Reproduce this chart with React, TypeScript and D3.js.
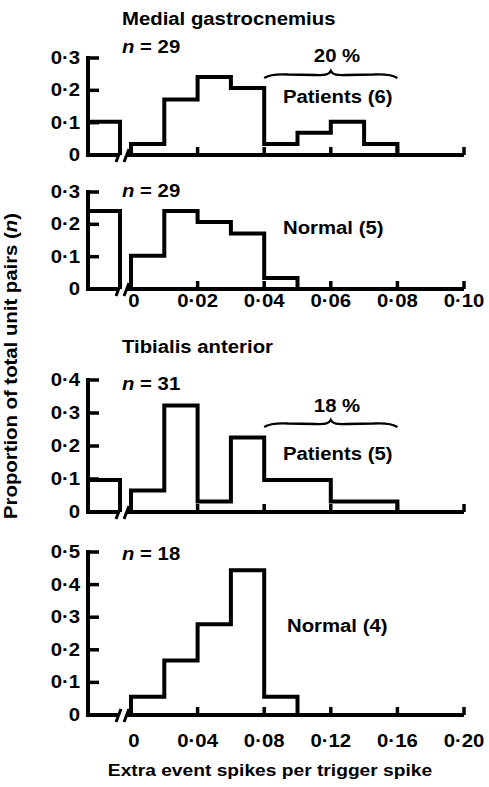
import React from 'react';
import * as d3 from 'd3';

const W = 489;
const H = 787;

// ---- data (proportions) ----
const mgBinEdges = [0, 0.01, 0.02, 0.03, 0.04, 0.05, 0.06, 0.07, 0.08];
const mgPatientsValues = [0.034, 0.172, 0.241, 0.207, 0.034, 0.069, 0.103, 0.034];
const mgPatientsBelow = 0.103;
const mgNormalValues = [0.103, 0.241, 0.207, 0.172, 0.034];
const mgNormalBelow = 0.241;

const taBinEdges = [0, 0.02, 0.04, 0.06, 0.08, 0.1, 0.12, 0.14, 0.16];
const taPatientsValues = [0.065, 0.323, 0.032, 0.226, 0.097, 0.097, 0.032, 0.032];
const taPatientsBelow = 0.097;
const taNormalValues = [0.056, 0.167, 0.278, 0.444, 0.056];
const taNormalBelow = 0;

const mgYTicks = [0, 0.1, 0.2, 0.3];
const taPatYTicks = [0, 0.1, 0.2, 0.3, 0.4];
const taNormYTicks = [0, 0.1, 0.2, 0.3, 0.4, 0.5];
const mgXTicks = [0, 0.02, 0.04, 0.06, 0.08, 0.1];
const taXTicks = [0, 0.04, 0.08, 0.12, 0.16, 0.2];

const FONT = "'Liberation Sans', Arial, Helvetica, sans-serif";
const SW = 4;
const SX = 1.13; // wide typeface: stretch along the reading direction
const FS = 18;

const fmtY = (v: number) => (v === 0 ? '0' : d3.format('.1f')(v).replace('.', '·'));
const fmtX = (v: number) => (v === 0 ? '0' : d3.format('.2f')(v).replace('.', '·'));

const T = ({ x, y, children, anchor, size, sx }: { x: number; y: number; children: any; anchor?: string; size?: number; sx?: number }) => (
  <text
    transform={`translate(${x},${y}) scale(${sx ?? SX},1)`}
    fontFamily={FONT}
    fontSize={size ?? FS}
    fontWeight="bold"
    textAnchor={anchor ?? 'start'}
  >
    {children}
  </text>
);

type PanelProps = {
  yRange: [number, number];
  yMax: number;
  yTicks: number[];
  xMax: number;
  xTicks: number[];
  edges: number[];
  values: number[];
  below: number;
  showXLabels: boolean;
  xLabelY: number;
  brace?: [number, number];
  braceY?: number;
};

const AX_L = 88;
const BRK_L = 120;
const BRK_R = 127;
const X0 = 131;
const X1 = 464;

function Panel(p: PanelProps) {
  const x = d3.scaleLinear().domain([0, p.xMax]).range([X0, X1]);
  const y = d3.scaleLinear().domain([0, p.yMax]).range(p.yRange);
  const y0 = y(0);

  const pts: [number, number][] = [[x(p.edges[0]), y0]];
  p.values.forEach((v, i) => {
    pts.push([x(p.edges[i]), y(v)]);
    pts.push([x(p.edges[i + 1]), y(v)]);
  });
  pts.push([x(p.edges[p.values.length]), y0]);
  const line = d3.line();

  const below: [number, number][] =
    p.below > 0
      ? [
          [AX_L, y(p.below)],
          [BRK_L, y(p.below)],
          [BRK_L, y0],
        ]
      : [];

  let bracePath = '';
  if (p.brace && p.braceY !== undefined) {
    const a = x(p.brace[0]);
    const b = x(p.brace[1]);
    const c = (a + b) / 2;
    const by = p.braceY;
    bracePath = `M${a},${by + 3} C${a + 6},${by - 1} ${a + 14},${by - 1} ${a + 24},${by - 0.5} L${c - 16},${by} C${c - 6},${by + 0.5} ${c - 2},${by} ${c},${by - 4} C${c + 2},${by} ${c + 6},${by + 0.5} ${c + 16},${by} L${b - 24},${by - 0.5} C${b - 14},${by - 1} ${b - 6},${by - 1} ${b},${by + 3}`;
  }

  return (
    <g>
      <line x1={AX_L} x2={AX_L} y1={y0 + SW / 2} y2={y(p.yMax) - SW / 2} stroke="#000" strokeWidth={SW} />
      {p.yTicks.filter((t) => t > 0).map((t) => (
        <line key={'yt' + t} x1={AX_L} x2={AX_L + 11} y1={y(t)} y2={y(t)} stroke="#000" strokeWidth={SW - 0.5} />
      ))}
      {p.yTicks.map((t) => (
        <T key={'yl' + t} x={80} y={y(t) + 6} anchor="end">
          {fmtY(t)}
        </T>
      ))}
      <line x1={AX_L} x2={BRK_L - 2} y1={y0} y2={y0} stroke="#000" strokeWidth={SW} />
      <line x1={BRK_R} x2={X1} y1={y0} y2={y0} stroke="#000" strokeWidth={SW} />
      <line x1={BRK_L - 4} x2={BRK_L + 1} y1={y0 + 7} y2={y0 - 6} stroke="#000" strokeWidth={SW - 1} />
      <line x1={BRK_R - 3} x2={BRK_R + 2} y1={y0 + 7} y2={y0 - 6} stroke="#000" strokeWidth={SW - 1} />
      {p.xTicks.map((t) => (
        <line key={'xt' + t} x1={x(t)} x2={x(t)} y1={y0} y2={y0 - 8} stroke="#000" strokeWidth={SW - 0.5} />
      ))}
      {p.showXLabels &&
        p.xTicks.map((t) => (
          <T key={'xl' + t} x={x(t) + (t === 0 ? 3 : 0)} y={p.xLabelY} anchor="middle">
            {fmtX(t)}
          </T>
        ))}
      {below.length > 0 && <path d={line(below) || ''} fill="none" stroke="#000" strokeWidth={SW} strokeLinejoin="miter" />}
      <path d={line(pts) || ''} fill="none" stroke="#000" strokeWidth={SW} strokeLinejoin="miter" />
      {bracePath && <path d={bracePath} fill="none" stroke="#000" strokeWidth={2.4} />}
    </g>
  );
}

const NLabel = ({ x, y, n }: { x: number; y: number; n: number }) => (
  <T x={x} y={y}>
    <tspan fontStyle="italic">n</tspan>
    {` = ${n}`}
  </T>
);

export default function App() {
  return (
    <svg width={W} height={H} style={{ position: 'absolute', left: 0, top: 0, background: '#fff' }}>
      <rect width={W} height={H} fill="#fff" />
      <T x={122} y={25}>Medial gastrocnemius</T>
      <NLabel x={122} y={53} n={29} />
      <Panel yRange={[155, 58]} yMax={0.3} yTicks={mgYTicks} xMax={0.1} xTicks={mgXTicks} edges={mgBinEdges} values={mgPatientsValues} below={mgPatientsBelow} showXLabels={false} xLabelY={0} brace={[0.04, 0.08]} braceY={75} />
      <T x={337} y={62} anchor="middle">20 %</T>
      <T x={283} y={103}>Patients (6)</T>

      <NLabel x={122} y={197} n={29} />
      <Panel yRange={[289, 192]} yMax={0.3} yTicks={mgYTicks} xMax={0.1} xTicks={mgXTicks} edges={mgBinEdges.slice(0, mgNormalValues.length + 1)} values={mgNormalValues} below={mgNormalBelow} showXLabels={true} xLabelY={307} />
      <T x={283} y={234}>Normal (5)</T>

      <T x={122} y={353}>Tibialis anterior</T>
      <NLabel x={122} y={390} n={31} />
      <Panel yRange={[512, 380]} yMax={0.4} yTicks={taPatYTicks} xMax={0.2} xTicks={taXTicks} edges={taBinEdges} values={taPatientsValues} below={taPatientsBelow} showXLabels={false} xLabelY={0} brace={[0.08, 0.16]} braceY={424} />
      <T x={337} y={412} anchor="middle">18 %</T>
      <T x={283} y={460}>Patients (5)</T>

      <NLabel x={122} y={560} n={18} />
      <Panel yRange={[715, 552]} yMax={0.5} yTicks={taNormYTicks} xMax={0.2} xTicks={taXTicks} edges={taBinEdges.slice(0, taNormalValues.length + 1)} values={taNormalValues} below={taNormalBelow} showXLabels={true} xLabelY={747} />
      <T x={287} y={632}>Normal (4)</T>
      <T x={270} y={776} anchor="middle" size={17}>Extra event spikes per trigger spike</T>

      <text
        transform={`translate(17,366) rotate(-90) scale(${SX},1)`}
        fontFamily={FONT}
        fontSize={FS}
        fontWeight="bold"
        textAnchor="middle"
      >
        Proportion of total unit pairs (<tspan fontStyle="italic">n</tspan>)
      </text>
    </svg>
  );
}
